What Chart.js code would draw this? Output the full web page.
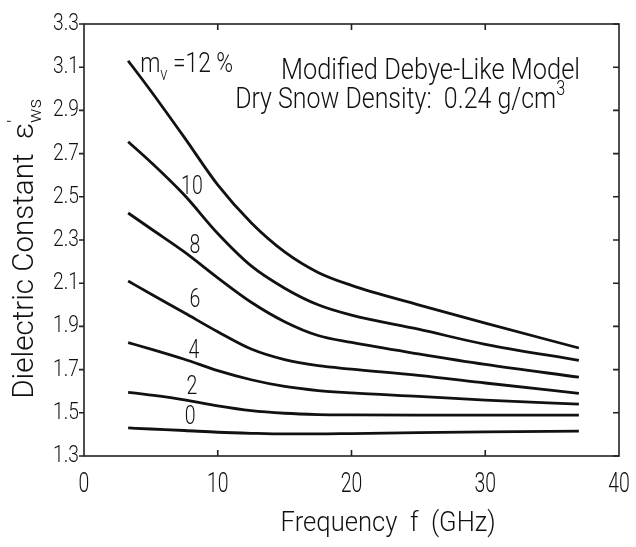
<!DOCTYPE html>
<html>
<head>
<meta charset="utf-8">
<script src="https://cdn.jsdelivr.net/npm/chart.js@4.4.0/dist/chart.umd.min.js"></script>
<style>
  html, body { margin: 0; background: #fff; }
</style>
</head>
<body>
<canvas id="c" width="636" height="547"></canvas>
<script>
// frequency (GHz) and dielectric constant per moisture content m_v (%)
var freq = [3.3, 5, 7.5, 10, 12.5, 15, 17.5, 20, 25, 30, 37];
var mv12 = [3.13, 2.99, 2.775, 2.555, 2.38, 2.245, 2.15, 2.09, 2.00, 1.915, 1.80];
var mv10 = [2.755, 2.66, 2.508, 2.33, 2.18, 2.077, 2.0, 1.952, 1.887, 1.817, 1.743];
var mv8 = [2.425, 2.352, 2.245, 2.125, 2.012, 1.922, 1.858, 1.826, 1.773, 1.724, 1.665];
var mv6 = [2.11, 2.05, 1.963, 1.875, 1.795, 1.746, 1.718, 1.702, 1.673, 1.638, 1.59];
var mv4 = [1.825, 1.795, 1.748, 1.695, 1.653, 1.622, 1.603, 1.592, 1.576, 1.559, 1.54];
var mv2 = [1.595, 1.582, 1.56, 1.532, 1.51, 1.498, 1.492, 1.49, 1.489, 1.489, 1.489];
var mv0 = [1.43, 1.425, 1.418, 1.41, 1.405, 1.402, 1.402, 1.404, 1.408, 1.412, 1.415];

var moisture = ['12', '10', '8', '6', '4', '2', '0'];
var series = [mv12, mv10, mv8, mv6, mv4, mv2, mv0];

var xTicks = [0, 10, 20, 30, 40];
var yTicks = [1.3, 1.5, 1.7, 1.9, 2.1, 2.3, 2.5, 2.7, 2.9, 3.1, 3.3];

var FONT = 'Roboto, "Liberation Sans", sans-serif';
var INK = '#111';

// draw text squeezed horizontally, segments may be sub/superscript
function drawRich(ctx, segs, x, y, size, opts) {
  opts = opts || {};
  ctx.save();
  ctx.fillStyle = INK;
  ctx.textBaseline = opts.baseline || 'alphabetic';
  var natural = 0;
  segs.forEach(function(s) {
    var fs = (s.sub || s.sup) ? size * 0.65 : size;
    ctx.font = '300 ' + fs + 'px ' + FONT;
    s.w = ctx.measureText(s.t).width;
    s.fs = fs;
    if (!s.noAdvance) natural += s.w;
  });
  var sx = opts.width ? opts.width / natural : (opts.sx || 0.75);
  var total = natural * sx;
  ctx.translate(x, y);
  if (opts.rotate) ctx.rotate(opts.rotate);
  var x0 = opts.align === 'center' ? -total / 2 : opts.align === 'right' ? -total : 0;
  ctx.translate(x0, 0);
  ctx.scale(sx, 1);
  var cx = 0;
  segs.forEach(function(s) {
    ctx.font = '300 ' + s.fs + 'px ' + FONT;
    var dy = s.sub ? size * 0.28 : s.sup ? -size * 0.42 : 0;
    ctx.fillText(s.t, cx, dy);
    if (!s.noAdvance) cx += s.w;
  });
  ctx.restore();
}

var framePlugin = {
  id: 'frame',
  afterDatasetsDraw: function(chart) {
    var ctx = chart.ctx;
    var a = chart.chartArea;
    var xs = chart.scales.x, ys = chart.scales.y;
    ctx.save();
    ctx.strokeStyle = '#222';
    ctx.lineWidth = 1.6;
    ctx.strokeRect(a.left, a.top, a.right - a.left, a.bottom - a.top);
    ctx.beginPath();
    xs.ticks.forEach(function(t) {
      var px = xs.getPixelForValue(t.value);
      if (t.value > xs.min && t.value < xs.max) {
        ctx.moveTo(px, a.bottom); ctx.lineTo(px, a.bottom - 6);
        ctx.moveTo(px, a.top); ctx.lineTo(px, a.top + 6);
      }
    });
    ys.ticks.forEach(function(t) {
      var py = ys.getPixelForValue(t.value);
      ctx.moveTo(a.left - 5, py); ctx.lineTo(a.left, py);
      ctx.moveTo(a.right, py); ctx.lineTo(a.right - 6, py);
    });
    ctx.stroke();
    ctx.restore();

    // tick labels
    xs.ticks.forEach(function(t) {
      drawRich(ctx, [{ t: String(t.value) }], xs.getPixelForValue(t.value), a.bottom + 36, 27, { sx: 0.72, align: 'center' });
    });
    ys.ticks.forEach(function(t) {
      drawRich(ctx, [{ t: t.value.toFixed(1) }], a.left - 5, ys.getPixelForValue(t.value), 24, { sx: 0.8, align: 'right', baseline: 'middle' });
    });

    // axis titles
    drawRich(ctx, [{ t: 'Frequency  f  (GHz)' }], xs.getPixelForValue(14.7), a.bottom + 75, 28, { width: 215 });
    drawRich(ctx, [{ t: 'Dielectric Constant  ε' }, { t: '′', sup: true, noAdvance: true }, { t: 'ws', sub: true }],
      33, ys.getPixelForValue(1.565), 29, { width: 300, rotate: -Math.PI / 2 });

    // annotations
    drawRich(ctx, [{ t: 'm' }, { t: 'v', sub: true }, { t: ' =12 %' }], xs.getPixelForValue(4.2), ys.getPixelForValue(3.078), 27, { width: 93 });
    drawRich(ctx, [{ t: 'Modified Debye-Like Model' }], xs.getPixelForValue(14.73), ys.getPixelForValue(3.045), 30, { width: 299 });
    drawRich(ctx, [{ t: 'Dry Snow Density:  0.24 g/cm' }, { t: '3', sup: true }], xs.getPixelForValue(11.3), ys.getPixelForValue(2.911), 30, { width: 330 });

    // curve labels
    var lab = [[8.07, 2.545], [8.3, 2.272], [8.3, 2.018], [8.22, 1.786], [8.07, 1.619], [7.93, 1.476]];
    lab.forEach(function(p, i) {
      drawRich(ctx, [{ t: moisture[i + 1] }], xs.getPixelForValue(p[0]), ys.getPixelForValue(p[1]), 26, { sx: 0.75, align: 'center', baseline: 'middle' });
    });
  }
};

var datasets = series.map(function(vals, i) {
  return {
    label: moisture[i] + '%',
    data: freq.map(function(f, j) { return { x: f, y: vals[j] }; }),
    borderColor: INK,
    borderWidth: 2.8,
    pointRadius: 0,
    fill: false,
    cubicInterpolationMode: 'monotone'
  };
});

new Chart(document.getElementById('c'), {
  type: 'line',
  data: { datasets: datasets },
  options: {
    responsive: false,
    animation: false,
    devicePixelRatio: 1,
    layout: { padding: { top: 24, right: 17, bottom: 0, left: 0 } },
    plugins: { legend: { display: false }, tooltip: { enabled: false } },
    scales: {
      x: {
        type: 'linear', min: 0, max: 40,
        afterBuildTicks: function(s) { s.ticks = xTicks.map(function(v) { return { value: v }; }); },
        afterFit: function(s) { s.height = 91; },
        grid: { display: false }, border: { display: false },
        ticks: { display: false }
      },
      y: {
        min: 1.3, max: 3.3,
        afterBuildTicks: function(s) { s.ticks = yTicks.map(function(v) { return { value: v }; }); },
        afterFit: function(s) { s.width = 84; },
        grid: { display: false }, border: { display: false },
        ticks: { display: false }
      }
    }
  },
  plugins: [framePlugin]
});
</script>
</body>
</html>
